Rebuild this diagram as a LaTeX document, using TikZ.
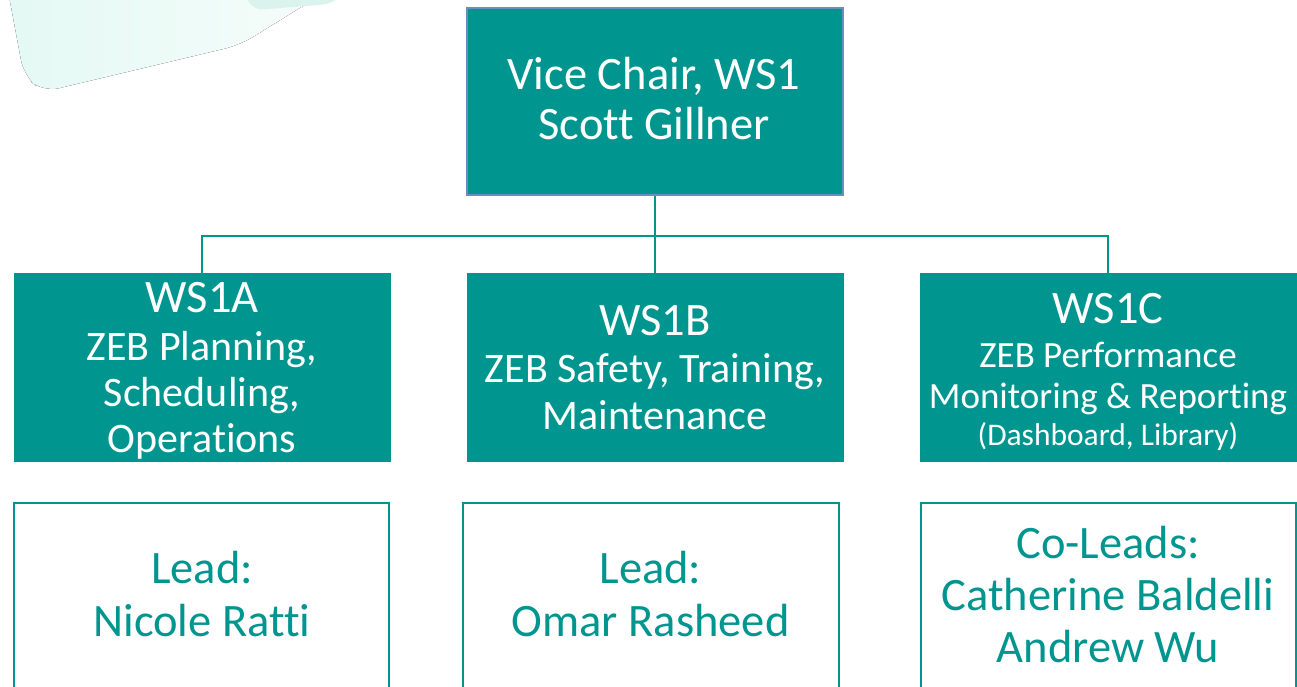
\documentclass[tikz,border=0pt]{standalone}
\usepackage{fontspec}
\setmainfont{Carlito}[Ligatures=NoCommon]
\definecolor{teal1}{RGB}{0,149,143}
\definecolor{bord}{RGB}{105,142,192}
\definecolor{mintA}{RGB}{228,249,244}
\definecolor{mintB}{RGB}{247,253,251}
\definecolor{mintC}{RGB}{218,243,236}
\begin{document}
\begin{tikzpicture}[x=1pt,y=-1pt,
  topbox/.style={draw=bord, line width=2pt, fill=teal1, minimum width=376pt, minimum height=187pt, inner sep=0pt},
  midbox/.style={fill=teal1, minimum width=377pt, minimum height=189pt, inner sep=0pt},
  leadbox/.style={draw=teal1, line width=2.2pt, fill=white, minimum width=375pt, minimum height=300pt, inner sep=0pt},
  wt/.style={text=white, anchor=base, inner sep=0pt},
  tt/.style={text=teal1, anchor=base, inner sep=0pt},
  bigf/.style={font=\fontsize{46.5}{50}\selectfont},
  midf/.style={font=\fontsize{42}{46}\selectfont},
  smallf/.style={font=\fontsize{37}{41}\selectfont},
  tinyf/.style={font=\fontsize{31.5}{35}\selectfont},
  conn/.style={draw=teal1, line width=2pt}]
\useasboundingbox (0,0) rectangle (1297,687);
\clip (0,0) rectangle (1297,687);
% faint background shapes
\fill[left color=mintA, right color=mintB, rounded corners=16pt] (6,-20) -- (24,76) -- (43,92) -- (240,45) -- (345,-20) -- cycle;
\fill[mintC, rounded corners=8pt] (240,-10) -- (255,10) -- (330,4) -- (350,-10) -- cycle;
% top box
\node[topbox] (top) at (655,101.5) {};
\node[wt,bigf] (t1) at (654,90) {Vice Chair, WS1};
\node[wt,bigf] (t2) at (654,140) {Scott Gillner};
% mid boxes
\node[midbox] (ma) at (202,367.5) {};
\node[midbox] (mb) at (655,367.5) {};
\node[midbox] (mc) at (1108,367.5) {};
\node[wt,bigf] (a1) at (202,312) {WS1A};
\node[wt,midf] (a2) at (202,360) {ZEB Planning,};
\node[wt,midf] (a3) at (202,406.5) {Scheduling,};
\node[wt,midf] (a4) at (202,452) {Operations};
\node[wt,bigf] (b1) at (655,335) {WS1B};
\node[wt,midf] (b2) at (655,382) {ZEB Safety, Training,};
\node[wt,midf] (b3) at (655,429) {Maintenance};
\node[wt,bigf] (c1) at (1108,323) {WS1C};
\node[wt,smallf] (c2) at (1108,367) {ZEB Performance};
\node[wt,smallf] (c3) at (1108,408) {Monitoring \& Reporting};
\node[wt,tinyf] (c4) at (1108,445) {(Dashboard, Library)};
% connectors
\draw[conn] (top.south) -- ++(0,40) coordinate (j);
\draw[conn] (ma.north) |- (j) -| (mc.north);
\draw[conn] (j) -- (mb.north);
% lead boxes
\node[leadbox] (la) at (201.5,653) {};
\node[leadbox, minimum width=376pt] (lb) at (651,653) {};
\node[leadbox] (lc) at (1108.5,653) {};
\node[tt,bigf] (la1) at (202,583) {Lead:};
\node[tt,bigf] (la2) at (202,636) {Nicole Ratti};
\node[tt,bigf] (lb1) at (650.5,583) {Lead:};
\node[tt,bigf] (lb2) at (650.5,636) {Omar Rasheed};
\node[tt,bigf] (lc1) at (1108,558) {Co-Leads:};
\node[tt,bigf] (lc2) at (1108,610) {Catherine Baldelli};
\node[tt,bigf] (lc3) at (1108,662) {Andrew Wu};
\end{tikzpicture}
\end{document}
